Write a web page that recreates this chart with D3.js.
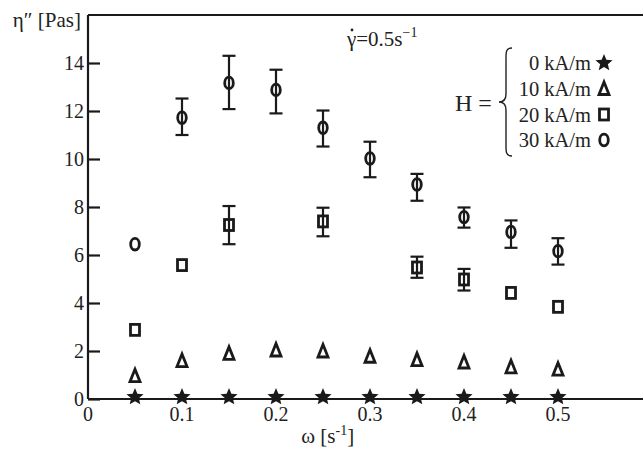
<!DOCTYPE html>
<html><head><meta charset="utf-8">
<script src="https://cdn.jsdelivr.net/npm/d3@7"></script>
<style>html,body{margin:0;padding:0;background:#fff;}svg{display:block;}
svg text{font-family:"Liberation Serif","Tinos","Times New Roman","DejaVu Serif","Noto Serif",serif;}</style>
</head><body>
<script>
// ---- data ----
const omega = [0.05, 0.10, 0.15, 0.20, 0.25, 0.30, 0.35, 0.40, 0.45, 0.50];
const h0  = [0.08, 0.08, 0.08, 0.08, 0.08, 0.08, 0.08, 0.08, 0.08, 0.08];
const h10 = [0.95, 1.58, 1.88, 2.02, 1.98, 1.76, 1.62, 1.52, 1.32, 1.22];
const h20 = [2.88, 5.58, 7.25, null, 7.40, null, 5.48, 4.98, 4.42, 3.84];
const h20lo = [null, null, 6.45, null, 6.78, null, 5.05, 4.52, null, null];
const h20hi = [null, null, 8.04, null, 7.97, null, 5.93, 5.42, null, null];
const h30 = [6.45, 11.72, 13.17, 12.88, 11.30, 10.02, 8.94, 7.58, 6.96, 6.16];
const h30lo = [null, 11.00, 12.08, 11.90, 10.52, 9.24, 8.26, 7.14, 6.30, 5.60];
const h30hi = [null, 12.52, 14.30, 13.72, 12.02, 10.72, 9.38, 7.98, 7.44, 6.70];
const xTicks = [0, 0.1, 0.2, 0.3, 0.4, 0.5];
const yTicks = [0, 2, 4, 6, 8, 10, 12, 14];
const legendLabels = ["0 kA/m", "10 kA/m", "20 kA/m", "30 kA/m"];
const legendKeys = ["star", "tri", "sq", "circ"];

(function () {
const W = 643, H = 450;
const svg = d3.select("body").append("svg").attr("width", W).attr("height", H);
const x = d3.scaleLinear().domain([0, 0.6]).range([88, 652]);
const y = d3.scaleLinear().domain([0, 16]).range([399, 15]);
const ink = "#1a1a1a";

// frame
svg.append("line").attr("x1", x(0)).attr("x2", x(0.6)).attr("y1", y(16)).attr("y2", y(16))
  .attr("stroke", ink).attr("stroke-width", 2.2);
svg.append("line").attr("x1", x(0.6)).attr("x2", x(0.6)).attr("y1", y(16)).attr("y2", y(0))
  .attr("stroke", ink).attr("stroke-width", 2.2);

// y axis
const yAxis = svg.append("g").attr("transform", `translate(${x(0)},0)`)
  .call(d3.axisRight(y).tickValues(yTicks).tickSize(12).tickFormat(""));
yAxis.select(".domain").attr("stroke", ink).attr("stroke-width", 2.2).attr("d", `M0,${y(0)}V${y(16)}`);
yAxis.selectAll(".tick line").attr("stroke", ink).attr("stroke-width", 2.2);
svg.append("g").selectAll("text").data(yTicks).join("text")
  .attr("x", x(0) - 4).attr("y", d => y(d) + 7)
  .attr("text-anchor", "end").attr("font-size", 20).attr("fill", "#222")
  .text(d => d);

// x axis
const xAxis = svg.append("g").attr("transform", `translate(0,${y(0)})`)
  .call(d3.axisBottom(x).tickValues(xTicks).tickSize(0).tickFormat(""));
xAxis.select(".domain").attr("stroke", ink).attr("stroke-width", 2.2).attr("d", `M${x(0)},0H${x(0.6)}`);
svg.append("g").selectAll("text").data(xTicks).join("text")
  .attr("x", d => x(d)).attr("y", 421)
  .attr("text-anchor", "middle").attr("font-size", 20).attr("fill", "#222")
  .text(d => d === 0 ? "0" : d3.format(".1f")(d));

// axis titles
const xt = svg.append("text").attr("x", x(0.255)).attr("y", 443).attr("text-anchor", "middle")
  .attr("font-size", 21).attr("fill", "#222");
xt.append("tspan").text("ω [s");
xt.append("tspan").attr("dy", -8).attr("font-size", 14).text("-1");
xt.append("tspan").attr("dy", 8).text("]");

svg.append("text").attr("x", 81).attr("y", 27).attr("text-anchor", "end")
  .attr("font-size", 21).attr("fill", "#222").text("η″ [Pas]");

// annotation gamma-dot
const ga = svg.append("text").attr("x", 347).attr("y", 46)
  .attr("font-size", 21).attr("fill", "#222");
ga.append("tspan").text("γ");
ga.append("tspan").text("=0.5s");
ga.append("tspan").attr("dy", -9).attr("font-size", 14).text("−1");
svg.append("circle").attr("cx", 352).attr("cy", 30).attr("r", 1.4).attr("fill", "#222");

// marker shapes
function starPath(cx, cy, R) {
  const r = R * 0.45; let p = "";
  for (let i = 0; i < 10; i++) {
    const a = -Math.PI / 2 + i * Math.PI / 5;
    const rr = i % 2 === 0 ? R : r;
    p += (i === 0 ? "M" : "L") + (cx + rr * Math.cos(a)).toFixed(2) + "," + (cy + rr * Math.sin(a)).toFixed(2);
  }
  return p + "Z";
}
function triPath(cx, cy) {
  return `M${cx},${cy - 7}L${cx + 5},${cy + 5.5}L${cx - 5},${cy + 5.5}Z`;
}
function drawMarker(g, key, cx, cy) {
  if (key === "star") {
    g.append("path").attr("d", starPath(cx, cy, 9)).attr("fill", ink);
  } else if (key === "tri") {
    g.append("path").attr("d", triPath(cx, cy)).attr("fill", "none").attr("stroke", ink).attr("stroke-width", 2.8).attr("stroke-linejoin", "miter");
  } else if (key === "sq") {
    g.append("rect").attr("x", cx - 4.5).attr("y", cy - 5.5).attr("width", 9).attr("height", 11)
      .attr("fill", "none").attr("stroke", ink).attr("stroke-width", 2.8);
  } else {
    g.append("ellipse").attr("cx", cx).attr("cy", cy).attr("rx", 4.3).attr("ry", 5.8)
      .attr("fill", "none").attr("stroke", ink).attr("stroke-width", 2.8);
  }
}

// error bars
function errBars(vals, lo, hi) {
  const g = svg.append("g").attr("stroke", ink).attr("stroke-width", 2.2);
  omega.forEach((w, i) => {
    if (vals[i] == null || lo[i] == null) return;
    const cx = x(w);
    g.append("line").attr("x1", cx).attr("x2", cx).attr("y1", y(lo[i])).attr("y2", y(hi[i]));
    g.append("line").attr("x1", cx - 6.5).attr("x2", cx + 6.5).attr("y1", y(lo[i])).attr("y2", y(lo[i]));
    g.append("line").attr("x1", cx - 6.5).attr("x2", cx + 6.5).attr("y1", y(hi[i])).attr("y2", y(hi[i]));
  });
}
errBars(h20, h20lo, h20hi);
errBars(h30, h30lo, h30hi);

const series = [[h0, "star"], [h10, "tri"], [h20, "sq"], [h30, "circ"]];
series.forEach(([vals, key]) => {
  const g = svg.append("g");
  omega.forEach((w, i) => { if (vals[i] != null) drawMarker(g, key, x(w), y(vals[i])); });
});

// legend
const lg = svg.append("g");
const rowY = [63, 89, 114.5, 140];
legendLabels.forEach((t, i) => {
  lg.append("text").attr("x", 591).attr("y", rowY[i] + 7).attr("text-anchor", "end")
    .attr("font-size", 20.5).attr("fill", "#222").text(t);
  drawMarker(lg, legendKeys[i], 604, rowY[i]);
});
lg.append("text").attr("x", 455).attr("y", 111).attr("font-size", 24)
  .attr("fill", "#222").text("H =");
// curly brace
const bx = 506, bTop = 48, bBot = 156, mid = (bTop + bBot) / 2;
lg.append("path")
  .attr("d", `M${bx + 6},${bTop} C${bx},${bTop} ${bx},${bTop + 4} ${bx},${bTop + 10} L${bx},${mid - 8} C${bx},${mid - 2} ${bx - 3},${mid} ${bx - 7},${mid} C${bx - 3},${mid} ${bx},${mid + 2} ${bx},${mid + 8} L${bx},${bBot - 10} C${bx},${bBot - 4} ${bx},${bBot} ${bx + 6},${bBot}`)
  .attr("fill", "none").attr("stroke", "#222").attr("stroke-width", 1.4);
})();
</script>
</body></html>
